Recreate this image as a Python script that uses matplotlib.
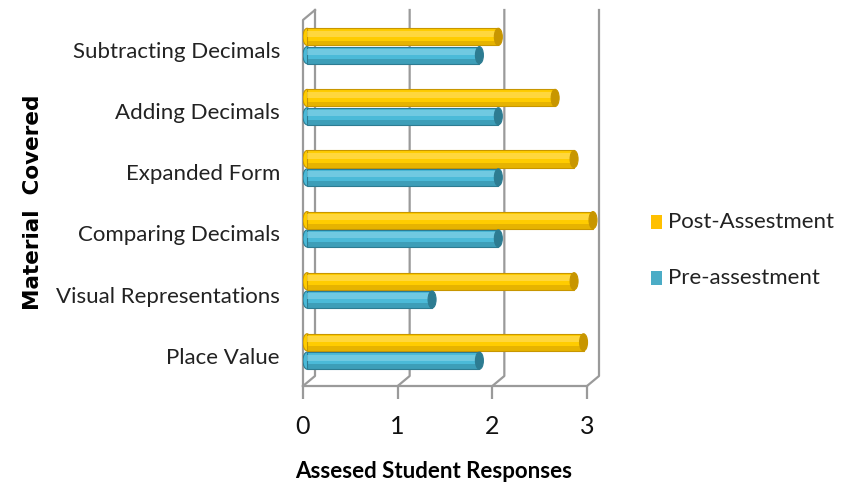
import matplotlib
matplotlib.use("Agg")
import matplotlib.pyplot as plt
from matplotlib.patches import Ellipse, Rectangle
import numpy as np

categories = ["Place Value", "Visual Representations", "Comparing Decimals",
              "Expanded Form", "Adding Decimals", "Subtracting Decimals"]
post_values = [2.9, 2.8, 3.0, 2.8, 2.6, 2.0]
pre_values = [1.8, 1.3, 2.0, 2.0, 2.0, 1.8]
series_names = ["Post-Assestment", "Pre-assestment"]
x_ticks = [0, 1, 2, 3]

GOLD = "#FFCC00"
GOLD_DARK = "#C89600"
GOLD_LIGHT = "#FFE066"
BLUE = "#4BBAD8"
BLUE_DARK = "#2D7C92"
BLUE_LIGHT = "#8AD4E8"

NARROW = ["Lato", "DejaVu Sans"]

W, H = 854, 492
fig = plt.figure(figsize=(W / 100, H / 100), dpi=100)
ax_l, ax_r, ax_t, ax_b = 303, 620, 5, 386
ax = fig.add_axes([ax_l / W, 1 - ax_b / H, (ax_r - ax_l) / W, (ax_b - ax_t) / H])
px_per_x = (587 - 303) / 3.0
px_per_y = 61.1
xlim = (0, (ax_r - ax_l) / px_per_x)
y0 = -(ax_b - 351.5) / px_per_y
ylim = (y0, y0 + (ax_b - ax_t) / px_per_y)
ax.set_xlim(*xlim)
ax.set_ylim(*ylim)
for s in ax.spines.values():
    s.set_visible(False)

dx = 12 / px_per_x
dy = 10 / px_per_y
grid_top = ylim[1] - 5 / px_per_y
floor = ylim[0]
gcol = "#9a9a9a"

for t in x_ticks:
    ax.plot([t, t + dx, t + dx], [floor, floor + dy, grid_top], color=gcol, lw=1.6,
            clip_on=False, zorder=1)
ax.plot([0, 0, dx], [floor, grid_top - dy, grid_top], color=gcol, lw=1.6, clip_on=False, zorder=1)
ax.plot([0, x_ticks[-1]], [floor, floor], color=gcol, lw=1.6, clip_on=False, zorder=1)

ax.set_xticks(x_ticks)
ax.set_xticklabels([str(t) for t in x_ticks], fontsize=18, family=NARROW, color="#111111")
ax.tick_params(axis="x", length=9, width=1.6, color=gcol, pad=12)
ax.set_yticks([])

y = np.arange(len(categories))
bh = 0.28
off = 0.15
x_start = 4 / px_per_x
depth_shift = dx / 2  # bars sit at mid-depth of the 3D box


def cylinder(yc, val, base, dark, light):
    end = val + depth_shift
    length = end - x_start
    ax.barh(yc, length, left=x_start, height=bh, color=base, edgecolor=dark, lw=0.8, zorder=3)
    ax.barh(yc + bh * 0.18, length, left=x_start, height=bh * 0.35, color=light, lw=0,
            zorder=3.1, alpha=0.6)
    ax.barh(yc - bh * 0.36, length, left=x_start, height=bh * 0.28, color=dark, lw=0,
            zorder=3.1, alpha=0.45)
    cap_w = 8 / px_per_x
    ax.add_patch(Ellipse((end, yc), cap_w, bh, facecolor=dark, edgecolor=dark, lw=0.8, zorder=3.2))
    ax.add_patch(Ellipse((x_start, yc), cap_w, bh, facecolor=base, edgecolor=dark, lw=0.8, zorder=2.9))


for i in range(len(categories)):
    cylinder(y[i] + off, post_values[i], GOLD, GOLD_DARK, GOLD_LIGHT)
    cylinder(y[i] - off, pre_values[i], BLUE, BLUE_DARK, BLUE_LIGHT)

for i, c in enumerate(categories):
    ax.text(-23 / px_per_x, y[i] - 0.1, c, ha="right", va="center", fontsize=16,
            family=NARROW, color="#222222", clip_on=False)

fig.text(33 / W, 1 - 202 / H, "Material  Covered", rotation=90, ha="center", va="center",
         fontsize=15.5, fontweight="bold", family=["DejaVu Sans"])
fig.text(434 / W, 1 - 472 / H, "Assesed Student Responses", ha="center", va="center",
         fontsize=16, fontweight="bold", family=NARROW)

leg_colors = ["#FFC000", "#4BACC6"]
leg_y = [222, 278]
for name, col, ly in zip(series_names, leg_colors, leg_y):
    fig.patches.append(Rectangle((651 / W, 1 - (ly + 7) / H), 11 / W, 14 / H,
                                 transform=fig.transFigure, facecolor=col, edgecolor="none"))
    fig.text(668 / W, 1 - ly / H, name, ha="left", va="center", fontsize=16,
             family=NARROW, color="#222222")

fig.savefig("out.png", dpi=100)
